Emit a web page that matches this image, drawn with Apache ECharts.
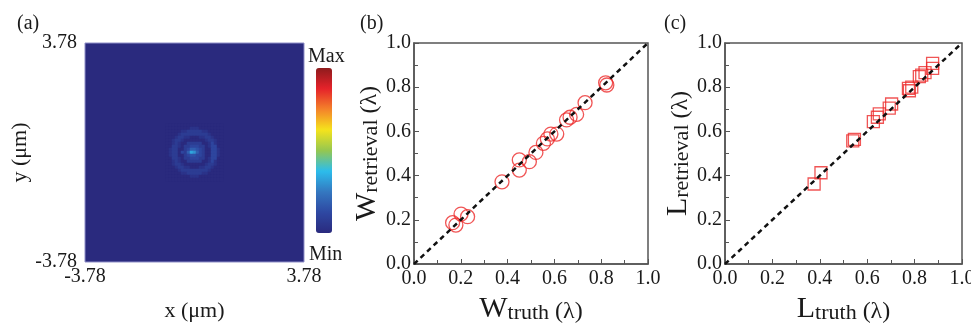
<!DOCTYPE html>
<html>
<head>
<meta charset="utf-8">
<script src="https://cdn.jsdelivr.net/npm/echarts@6/dist/echarts.min.js"></script>
<style>
html,body{margin:0;padding:0;background:#fff;}
#chart{width:971px;height:324px;}
</style>
</head>
<body>
<div id="chart"></div>
<script>
// ---------- Data ----------
// Panel (a): field intensity around the focal spot (digits 0-9, relative levels)
var fieldSize = 73;            // cells per side of the -3.78..3.78 µm window
var patchStart = 27;           // first column / row of the patch below
var patchRows = [
  "0000000000000000000",
  "0000000011100000000",
  "0000011222221100000",
  "0000122222222210000",
  "0001221100011221000",
  "0012210000000122100",
  "0012100222220013100",
  "0022102233322013300",
  "0122002355432003310",
  "0122032598532003310",
  "0122002344332003310",
  "0022102233322013300",
  "0012100222220013100",
  "0012210000000122100",
  "0001221100011221000",
  "0000122222222210000",
  "0000011222221100000",
  "0000000011100000000",
  "0000000000000000000"
];
var levelScale = 27;
var aTickValues = [-1, 1];
var aTickLabels = ['-3.78', '3.78'];

// Panel (b): W truth vs retrieval (in λ)
var wTruth =     [0.819, 0.824, 0.731, 0.695, 0.667, 0.652, 0.610, 0.585, 0.570, 0.553, 0.521, 0.493, 0.450, 0.450, 0.376, 0.201, 0.229, 0.165, 0.179];
var wRetrieval = [0.820, 0.810, 0.730, 0.677, 0.664, 0.652, 0.588, 0.588, 0.566, 0.546, 0.505, 0.463, 0.471, 0.425, 0.372, 0.226, 0.214, 0.187, 0.176];

// Panel (c): L truth vs retrieval (in λ)
var lTruth =     [0.876, 0.876, 0.844, 0.830, 0.820, 0.788, 0.774, 0.778, 0.703, 0.693, 0.651, 0.643, 0.626, 0.546, 0.539, 0.405, 0.376];
var lRetrieval = [0.908, 0.885, 0.866, 0.855, 0.848, 0.800, 0.795, 0.784, 0.724, 0.705, 0.679, 0.664, 0.644, 0.564, 0.557, 0.413, 0.362];

var diagonal = [0, 1];
var jetColors = ['#2a2a7e', '#2e48a2', '#3478c0', '#2cbdec', '#95c750', '#f5e31c', '#f4822a', '#e5222a', '#8e1b1d'];

// ---------- Build ----------
var cats = [];
for (var i = 0; i < fieldSize; i++) cats.push(i);
var heatData = [];
patchRows.forEach(function (row, r) {
  for (var c = 0; c < row.length; c++) {
    heatData.push([patchStart + c, patchStart + r, Number(row[c]) / levelScale]);
  }
});
function zip(a, b) { return a.map(function (v, i) { return [v, b[i]]; }); }

var serif = 'Liberation Serif';
var txt = '#1a1a1a';
var axisCol = '#555';

function richName(big, small) {
  return '{big|' + big + '}{small|' + small + '}{par| (λ)}';
}
var richStyle = {
  big: { fontSize: 30, fontFamily: serif, color: txt, verticalAlign: 'bottom', lineHeight: 32 },
  small: { fontSize: 22, fontFamily: serif, color: txt, verticalAlign: 'bottom', lineHeight: 32 },
  par: { fontSize: 24, fontFamily: serif, color: txt, verticalAlign: 'bottom', lineHeight: 32 }
};

function valueAxis(idx, isX, name) {
  return {
    type: 'value', gridIndex: idx, min: 0, max: 1, interval: 0.2,
    axisLine: { show: true, onZero: false, lineStyle: { color: axisCol, width: 1.5 } },
    axisTick: { show: true, inside: true, length: 5, lineStyle: { color: axisCol, width: 1 } },
    minorTick: { show: true, splitNumber: 2, length: 4, lineStyle: { color: axisCol, width: 1 } },
    splitLine: { show: false },
    axisLabel: { fontFamily: serif, fontSize: 20, color: txt, margin: isX ? 5 : 3,
      formatter: function (v) { return v.toFixed(1); } },
    name: name, nameLocation: 'middle', nameGap: isX ? 27 : 30,
    nameTextStyle: { rich: richStyle }
  };
}

var option = {
  backgroundColor: '#fff',
  animation: false,
  title: [
    { text: '(a)', left: 12, top: 9, textStyle: { fontFamily: serif, fontSize: 20, fontWeight: 'normal', color: txt } },
    { text: '(b)', left: 355, top: 9, textStyle: { fontFamily: serif, fontSize: 20, fontWeight: 'normal', color: txt } },
    { text: '(c)', left: 659, top: 9, textStyle: { fontFamily: serif, fontSize: 20, fontWeight: 'normal', color: txt } },
    { text: 'Max', left: 303, top: 42, textStyle: { fontFamily: serif, fontSize: 20, fontWeight: 'normal', color: txt } },
    { text: 'Min', left: 304, top: 240, textStyle: { fontFamily: serif, fontSize: 20, fontWeight: 'normal', color: txt } }
  ],
  grid: [
    { left: 85, top: 43, width: 219, height: 219, show: true, backgroundColor: jetColors[0], borderColor: '#8f8fc8', borderWidth: 1, outerBoundsMode: 'none', containLabel: false },
    { left: 85, top: 43, width: 219, height: 219, outerBoundsMode: 'none', containLabel: false },
    { left: 414, top: 43, width: 234, height: 221, show: true, borderColor: axisCol, borderWidth: 1.5, outerBoundsMode: 'none', containLabel: false },
    { left: 725, top: 43, width: 237, height: 221, show: true, borderColor: axisCol, borderWidth: 1.5, outerBoundsMode: 'none', containLabel: false }
  ],
  visualMap: {
    type: 'continuous', min: 0, max: 1, calculable: false, seriesIndex: 0,
    left: 301, top: 53, itemWidth: 16, itemHeight: 165, text: null, showLabel: false,
    inRange: { color: jetColors }
  },
  xAxis: [
    { type: 'category', gridIndex: 0, data: cats, show: false },
    { type: 'value', gridIndex: 1, min: -1, max: 1, interval: 1,
      axisLine: { show: false }, axisTick: { show: false }, splitLine: { show: false },
      axisLabel: { fontFamily: serif, fontSize: 20, color: txt, margin: 5,
        formatter: function (v) { var k = aTickValues.indexOf(v); return k >= 0 ? aTickLabels[k] : ''; } },
      name: 'x (μm)', nameLocation: 'middle', nameGap: 38,
      nameTextStyle: { fontFamily: serif, fontSize: 22, color: txt } },
    valueAxis(2, true, richName('W', 'truth')),
    valueAxis(3, true, richName('L', 'truth'))
  ],
  yAxis: [
    { type: 'category', gridIndex: 0, data: cats, show: false, inverse: true },
    { type: 'value', gridIndex: 1, min: -1, max: 1, interval: 1,
      axisLine: { show: false }, axisTick: { show: false }, splitLine: { show: false },
      axisLabel: { fontFamily: serif, fontSize: 20, color: txt, margin: 8,
        formatter: function (v) { var k = aTickValues.indexOf(v); return k >= 0 ? aTickLabels[k] : ''; } },
      name: 'y (μm)', nameLocation: 'middle', nameGap: 48,
      nameTextStyle: { fontFamily: serif, fontSize: 22, color: txt } },
    valueAxis(2, false, richName('W', 'retrieval')),
    valueAxis(3, false, richName('L', 'retrieval'))
  ],
  series: [
    { type: 'heatmap', xAxisIndex: 0, yAxisIndex: 0, data: heatData, progressive: 0 },
    { type: 'scatter', xAxisIndex: 2, yAxisIndex: 2, data: zip(wTruth, wRetrieval),
      symbol: 'circle', symbolSize: 14,
      itemStyle: { color: 'rgba(0,0,0,0)', borderColor: '#ec2a2a', borderWidth: 1.3 }, z: 2 },
    { type: 'line', xAxisIndex: 2, yAxisIndex: 2, data: zip(diagonal, diagonal),
      symbol: 'none', lineStyle: { color: '#111', width: 2.5, type: [5, 4] }, z: 3 },
    { type: 'scatter', xAxisIndex: 3, yAxisIndex: 3, data: zip(lTruth, lRetrieval),
      symbol: 'rect', symbolSize: 12,
      itemStyle: { color: 'rgba(0,0,0,0)', borderColor: '#ec2a2a', borderWidth: 1.3 }, z: 2 },
    { type: 'line', xAxisIndex: 3, yAxisIndex: 3, data: zip(diagonal, diagonal),
      symbol: 'none', lineStyle: { color: '#111', width: 2.5, type: [5, 4] }, z: 3 }
  ]
};

var chart = echarts.init(document.getElementById('chart'), null, { renderer: 'canvas' });
chart.setOption(option);
</script>
</body>
</html>
